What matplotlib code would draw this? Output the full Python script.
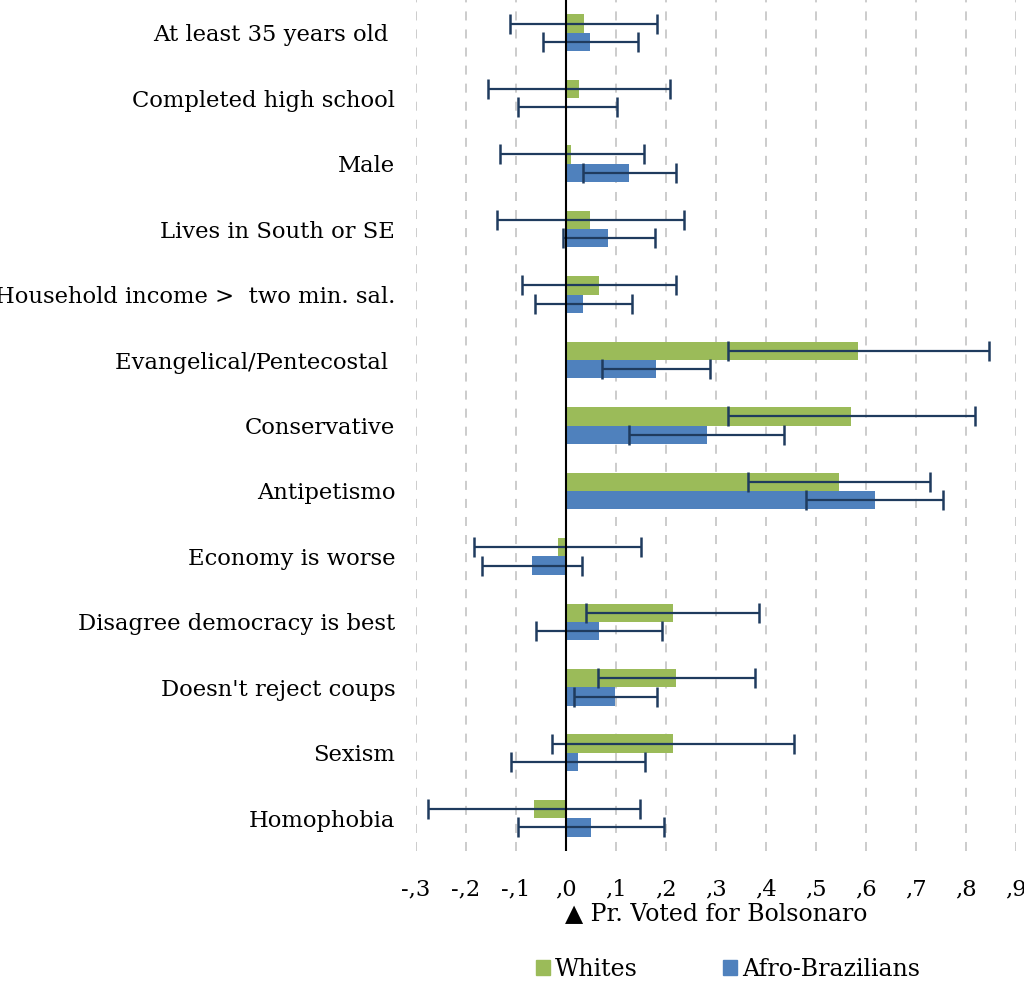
import matplotlib
matplotlib.use("Agg")
import matplotlib.pyplot as plt
from matplotlib.patches import Patch
import numpy as np

plt.rcParams['font.family'] = ['DejaVu Serif', 'DejaVu Sans']

categories = ["At least 35 years old ", "Completed high school", "Male",
              "Lives in South or SE", "Household income >  two min. sal.",
              "Evangelical/Pentecostal ", "Conservative", "Antipetismo",
              "Economy is worse", "Disagree democracy is best",
              "Doesn't reject coups", "Sexism", "Homophobia"]

# point estimates
whites = [0.035, 0.025, 0.010, 0.048, 0.065, 0.583, 0.570, 0.545,
          -0.017, 0.213, 0.220, 0.213, -0.065]
afro = [0.048, 0.000, 0.126, 0.084, 0.034, 0.179, 0.281, 0.617,
        -0.068, 0.065, 0.097, 0.023, 0.049]

# confidence intervals
whites_lo = [-0.112, -0.157, -0.133, -0.138, -0.088, 0.323, 0.323, 0.364,
             -0.184, 0.040, 0.063, -0.028, -0.277]
whites_hi = [0.182, 0.208, 0.155, 0.235, 0.219, 0.846, 0.818, 0.727,
             0.149, 0.386, 0.377, 0.455, 0.147]
afro_lo = [-0.047, -0.097, 0.034, -0.007, -0.062, 0.072, 0.126, 0.480,
           -0.168, -0.061, 0.015, -0.111, -0.096]
afro_hi = [0.144, 0.101, 0.219, 0.177, 0.131, 0.288, 0.435, 0.753,
           0.031, 0.191, 0.181, 0.157, 0.195]

ticks = [-0.3, -0.2, -0.1, 0.0, 0.1, 0.2, 0.3, 0.4, 0.5, 0.6, 0.7, 0.8, 0.9]
tick_labels = ["-,3", "-,2", "-,1", ",0", ",1", ",2", ",3", ",4", ",5",
               ",6", ",7", ",8", ",9"]

green = '#9BBB59'
blue = '#4F81BD'
err_col = '#1F3B5E'

fig = plt.figure(figsize=(10.24, 9.84), dpi=100)
ax = fig.add_axes([416/1024, 1 - 851/984, 600/1024, 851/984])

y = np.arange(len(categories))
h = 0.28

w = np.array(whites)
a = np.array(afro)
w_err = [w - np.array(whites_lo), np.array(whites_hi) - w]
a_err = [a - np.array(afro_lo), np.array(afro_hi) - a]

ax.barh(y - h/2, w, height=h, color=green, zorder=2)
ax.barh(y + h/2, a, height=h, color=blue, zorder=2)
ax.errorbar(w, y - h/2, xerr=w_err, fmt='none', ecolor=err_col,
            elinewidth=1.6, capsize=7, capthick=1.8, zorder=3)
ax.errorbar(a, y + h/2, xerr=a_err, fmt='none', ecolor=err_col,
            elinewidth=1.6, capsize=7, capthick=1.8, zorder=3)

ax.set_ylim(len(categories) - 0.5, -0.5)
ax.set_xlim(-0.3, 0.9)
ax.set_yticks(y)
ax.set_yticklabels(categories, fontsize=16.3)
ax.set_xticks(ticks)
ax.set_xticklabels(tick_labels, fontsize=16.3)
ax.tick_params(axis='both', length=0)
ax.tick_params(axis='x', pad=20)
ax.tick_params(axis='y', pad=15)

ax.grid(axis='x', color='#C8C8C8', linestyle=(0, (5, 5)), linewidth=1.3, zorder=0)
ax.axvline(0, color='black', linewidth=1.5, zorder=4)
for s in ax.spines.values():
    s.set_visible(False)

ax.set_xlabel("\u25b2 Pr. Voted for Bolsonaro", fontsize=17, labelpad=1)

handles = [Patch(color=green, label='Whites'), Patch(color=blue, label='Afro-Brazilians')]
fig.legend(handles=handles, loc='center', bbox_to_anchor=(728/1024, 1 - 969/984),
           ncol=2, frameon=False, fontsize=17, handlelength=0.6, handleheight=0.6,
           handletextpad=0.2, columnspacing=3.6)

fig.savefig("out.png", dpi=100)
